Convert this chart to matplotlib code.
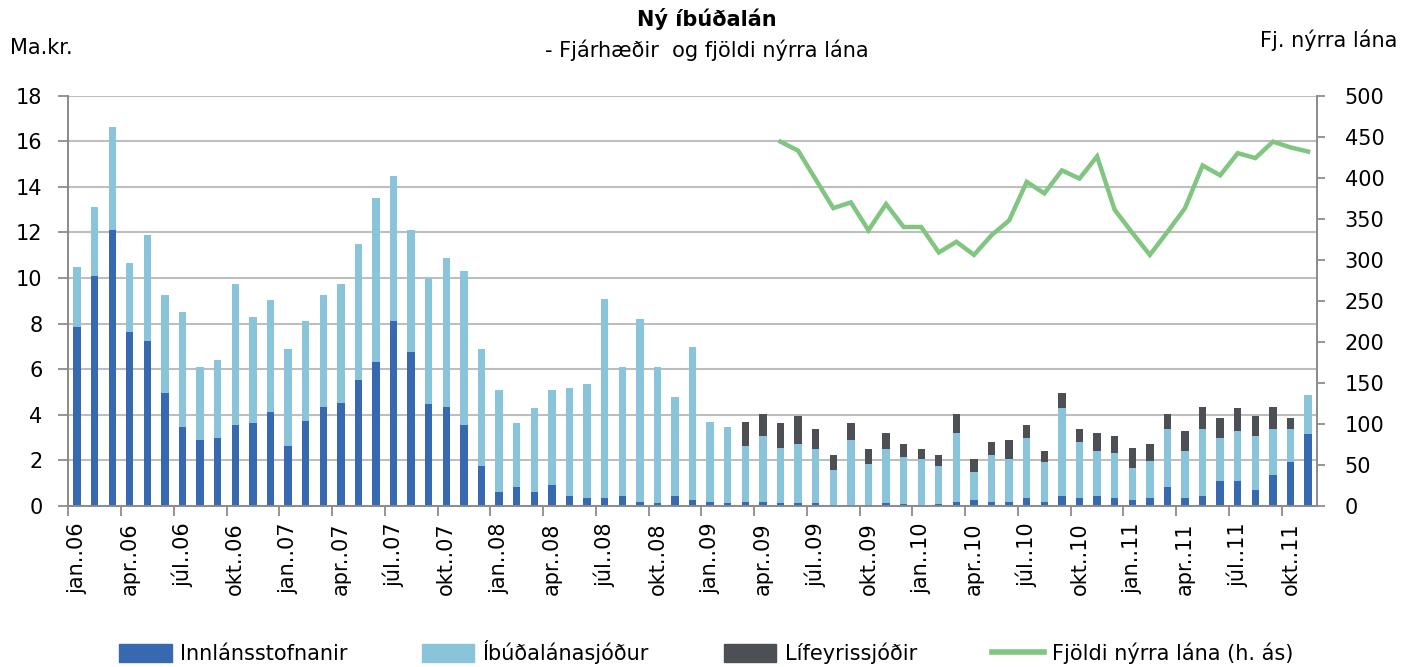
import matplotlib
matplotlib.use("Agg")
import matplotlib.pyplot as plt
from matplotlib.lines import Line2D
from matplotlib.patches import Patch
import numpy as np

plt.rcParams['font.family'] = ['DejaVu Sans']

months = ['jan.', 'feb.', 'mar.', 'apr.', 'maí.', 'jún.', 'júl.', 'ágú.', 'sep.', 'okt.', 'nóv.', 'des.']
years = ['06', '07', '08', '09', '10', '11']
categories = [f"{m}.{y}" for y in years for m in months][:71]

innlan = [7.87, 10.09, 12.12, 7.63, 7.22, 4.94, 3.46, 2.89, 2.97, 3.54, 3.63, 4.12,
          2.65, 3.71, 4.36, 4.53, 5.51, 6.33, 8.13, 6.74, 4.46, 4.36, 3.54, 1.74,
          0.60, 0.85, 0.60, 0.92, 0.44, 0.37, 0.37, 0.44, 0.19, 0.12, 0.44, 0.28,
          0.19, 0.12, 0.19, 0.19, 0.12, 0.12, 0.12, 0.03, 0.03, 0.03, 0.12, 0.10,
          0.03, 0.09, 0.19, 0.28, 0.19, 0.19, 0.37, 0.19, 0.44, 0.37, 0.44, 0.37,
          0.28, 0.37, 0.85, 0.37, 0.44, 1.10, 1.10, 0.69, 1.35, 1.92, 3.14]
ibudalanasjodur = [2.61, 3.01, 4.50, 3.03, 4.65, 4.31, 5.06, 3.19, 3.43, 6.21, 4.64, 4.90,
                   4.25, 4.42, 4.89, 5.22, 5.97, 7.18, 6.36, 5.38, 5.53, 6.53, 6.78, 5.16,
                   4.49, 2.78, 3.68, 4.17, 4.72, 4.97, 8.72, 5.64, 8.00, 5.96, 4.33, 6.69,
                   3.51, 3.34, 2.46, 2.87, 2.44, 2.61, 2.37, 1.55, 2.86, 1.80, 2.37, 2.06,
                   2.05, 1.66, 3.03, 1.23, 2.05, 1.89, 2.60, 1.73, 3.84, 2.44, 1.97, 1.95,
                   1.39, 1.62, 2.53, 2.04, 2.94, 1.87, 2.20, 2.37, 2.03, 1.46, 1.71]
lifeyrissjodir = [0] * 38 + [1.05, 0.98, 1.07, 1.23, 0.89, 0.66, 0.74, 0.66, 0.73, 0.56,
                             0.41, 0.49, 0.82, 0.57, 0.57, 0.81, 0.57, 0.49, 0.66, 0.57,
                             0.81, 0.74, 0.89, 0.73, 0.66, 0.89, 0.98, 0.90, 0.98, 0.89,
                             0.98, 0.49, 0.0]
fjoldi = [np.nan] * 40 + [444, 433, 398, 363, 370, 336, 368, 340, 340, 309, 322, 306,
                          330, 348, 395, 381, 409, 399, 426, 361, 333, 306, 334, 363,
                          415, 403, 430, 424, 444, 437, 432]

c_inn = '#3669B0'
c_ibud = '#8AC4DA'
c_lif = '#4C5055'
c_line = '#80C580'
grid_c = '#BEBEBE'
axis_c = '#8C8C8C'
FS = 15

fig = plt.figure(figsize=(14.13, 6.67), dpi=100)
ax = fig.add_axes([0.0483, 0.2414, 0.8837, 0.6151])
ax2 = ax.twinx()

x = np.arange(len(categories))
w = 0.42
inn = np.array(innlan)
ib = np.array(ibudalanasjodur)
lf = np.array(lifeyrissjodir)
ax.bar(x, inn, w, color=c_inn, zorder=3)
ax.bar(x, ib, w, bottom=inn, color=c_ibud, zorder=3)
ax.bar(x, lf, w, bottom=inn + ib, color=c_lif, zorder=3)

ax2.plot(x, fjoldi, color=c_line, lw=3.2, solid_joinstyle='miter', zorder=4)

ax.set_xlim(-0.5, len(categories) - 0.5)
ax.set_ylim(0, 18)
ax.set_yticks(np.arange(0, 19, 2))
ax2.set_ylim(0, 500)
ax2.set_yticks(np.arange(0, 501, 50))

ax.yaxis.grid(True, color=grid_c, lw=1.5, zorder=0)
ax.set_axisbelow(True)

# x ticks: marks at boundaries every 3 months, labels at category centres
ax.set_xticks(np.arange(-0.5, len(categories), 3))
ax.set_xticklabels([])
ax.tick_params(axis='x', which='major', length=7, width=1.3, color=axis_c, direction='out')
ax.set_xticks(x[::3], minor=True)
ax.set_xticklabels([categories[i] for i in x[::3]], minor=True, rotation=90,
                   fontsize=FS, va='top')
ax.tick_params(axis='x', which='minor', length=0, pad=12)

ax.tick_params(axis='y', length=7.5, width=1.3, color=axis_c, labelsize=FS, pad=11)
ax2.tick_params(axis='y', length=6, width=1.3, color=axis_c, labelsize=FS, pad=14)
for a in (ax, ax2):
    a.spines['top'].set_visible(False)
    for s in ('left', 'right', 'bottom'):
        a.spines[s].set_color(axis_c)
        a.spines[s].set_linewidth(1.3)

fig.text(0.5, 0.972, 'Ný íbúðalán', ha='center', va='center', fontsize=FS, fontweight='bold')
fig.text(0.5, 0.925, '- Fjárhæðir  og fjöldi nýrra lána', ha='center', va='center', fontsize=FS)
fig.text(0.007, 0.928, 'Ma.kr.', ha='left', va='center', fontsize=FS)
fig.text(0.989, 0.94, 'Fj. nýrra lána', ha='right', va='center', fontsize=FS)

handles = [Patch(color=c_inn), Patch(color=c_ibud), Patch(color=c_lif),
           Line2D([0], [0], color=c_line, lw=4)]
labels = ['Innlánsstofnanir', 'Íbúðalánasjóður', 'Lífeyrissjóðir', 'Fjöldi nýrra lána (h. ás)']
fig.legend(handles, labels, loc='center', bbox_to_anchor=(0.5, 0.022), ncol=4,
           frameon=False, fontsize=FS, handlelength=2.5, handleheight=0.9,
           handletextpad=0.4, columnspacing=3.6)

fig.savefig('out.png', dpi=100)
